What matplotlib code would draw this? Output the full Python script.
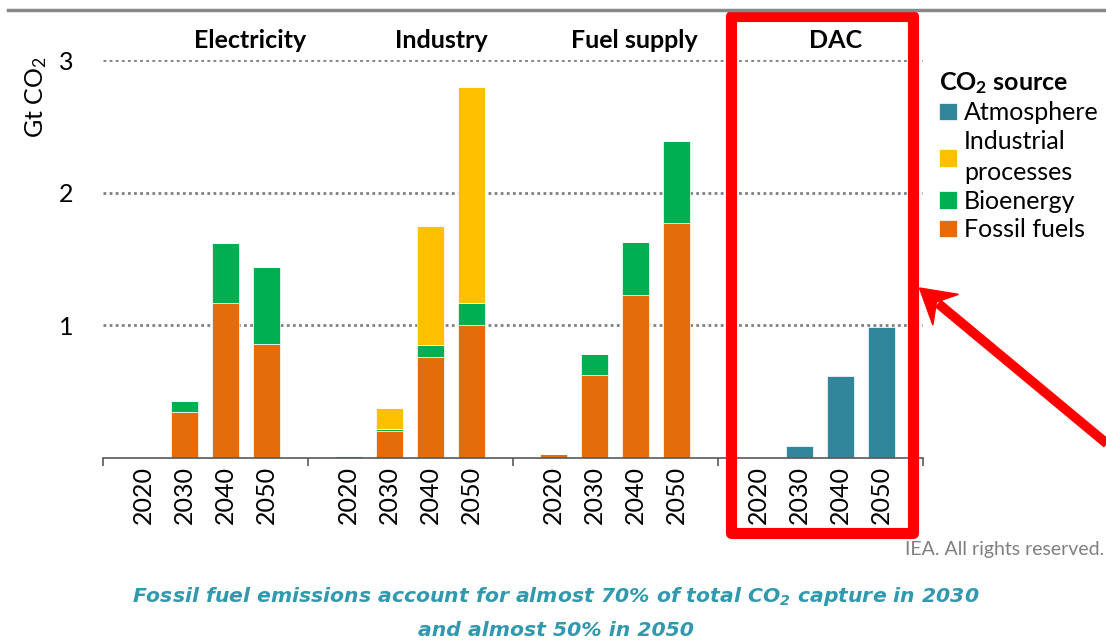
import matplotlib
matplotlib.use("Agg")
import matplotlib.pyplot as plt
from matplotlib.patches import Rectangle, Polygon, Patch
from matplotlib.lines import Line2D

plt.rcParams['font.family'] = ['Lato', 'DejaVu Sans']
plt.rcParams['mathtext.default'] = 'regular'

# data (Gt CO2), one row per sector, one value per year
sectors = ['Electricity', 'Industry', 'Fuel supply', 'DAC']
years = ['2020', '2030', '2040', '2050']
fossil = [[0.0, 0.345, 1.17, 0.86],
          [0.0, 0.20, 0.76, 1.00],
          [0.03, 0.625, 1.23, 1.77],
          [0.0, 0.0, 0.0, 0.0]]
bio = [[0.0, 0.085, 0.45, 0.58],
       [0.01, 0.015, 0.09, 0.17],
       [0.0, 0.155, 0.40, 0.62],
       [0.0, 0.0, 0.0, 0.0]]
industrial = [[0.0, 0.0, 0.0, 0.0],
              [0.0, 0.16, 0.90, 1.63],
              [0.0, 0.0, 0.0, 0.0],
              [0.0, 0.0, 0.0, 0.0]]
atmosphere = [[0.0, 0.0, 0.0, 0.0],
              [0.0, 0.0, 0.0, 0.0],
              [0.0, 0.0, 0.0, 0.0],
              [0.0, 0.085, 0.62, 0.985]]

colors = {'Atmosphere': '#31869B', 'Industrial\nprocesses': '#FFC000',
          'Bioenergy': '#00B050', 'Fossil fuels': '#E46C0A'}

W, H = 1106, 643


def px(x, y):
    return (x / W, 1 - y / H)


fig = plt.figure(figsize=(W / 100, H / 100), dpi=100)
ax = fig.add_axes([102.7 / W, 1 - 457.7 / H, 820 / W, 397.7 / H])

slots = len(years) + 1
xs, labels = [], []
for g, sec in enumerate(sectors):
    pos = [g * slots + 1 + i for i in range(len(years))]
    xs += pos
    labels += years
    bottom = [0.0] * len(years)
    for name, vals in [('Fossil fuels', fossil), ('Bioenergy', bio),
                       ('Industrial\nprocesses', industrial), ('Atmosphere', atmosphere)]:
        v = vals[g]
        ax.bar(pos, v, width=0.66, bottom=bottom, color=colors[name],
               edgecolor='white', linewidth=0.5)
        bottom = [b + x for b, x in zip(bottom, v)]

# group titles
title_x = [3.59, 8.25, 12.96, 17.88]
for tx, sec in zip(title_x, sectors):
    ax.text(tx, 3.15, sec, ha='center', va='center', fontsize=18,
            fontweight='bold', clip_on=False)

ax.set_xlim(0, slots * len(sectors))
ax.set_ylim(0, 3)
ax.set_xticks([g * slots for g in range(len(sectors) + 1)])
ax.set_xticklabels([])
ax.set_xticks(xs, minor=True)
ax.set_xticklabels(labels, minor=True, rotation=90, fontsize=18)
ax.tick_params(axis='x', which='major', length=6, width=1.2, color='#595959')
ax.tick_params(axis='x', which='minor', length=0, pad=6)
ax.set_yticks([1, 2, 3])
ax.set_yticklabels(['1', '2', '3'], fontsize=18)
ax.tick_params(axis='y', length=0, pad=21)
ax.yaxis.grid(True, color='#808080', linestyle=(0, (1, 1.2)), linewidth=2)
ax.set_axisbelow(True)
for s in ['left', 'right', 'top']:
    ax.spines[s].set_visible(False)
ax.spines['bottom'].set_color('#595959')
ax.spines['bottom'].set_linewidth(1.2)

fig.text(*px(36, 97), 'Gt CO$_2$', rotation=90, ha='center', va='center', fontsize=18)

# legend
order = ['Atmosphere', 'Industrial\nprocesses', 'Bioenergy', 'Fossil fuels']
handles = [Patch(facecolor=colors[k], edgecolor='white', linewidth=0.5) for k in order]
leg = fig.legend(handles, order, loc='upper left', bbox_to_anchor=px(929, 60),
                 frameon=False, fontsize=18, title='CO$_2$ source',
                 title_fontproperties={'weight': 'bold', 'size': 18},
                 alignment='left', handlelength=0.7, handleheight=0.7,
                 handletextpad=0.3, labelspacing=0.22, borderaxespad=0)
for t in leg.get_texts():
    t.set_linespacing(1.45)

# top rule
fig.add_artist(Line2D([8 / W, 1], [1 - 10 / H] * 2, color='#888888', lw=2.5,
                      transform=fig.transFigure))

# red highlight box
x0, y0 = px(730.5, 533)
fig.add_artist(Rectangle((x0, y0), 182 / W, 517 / H, transform=fig.transFigure,
                         fill=False, edgecolor='#FF0000', lw=8, joinstyle='round'))

# red arrow
tip = (919.5, 288.0)
u = (0.769, 0.639)
n = (-u[1], u[0])
hl, hw, notch = 34, 20, 22
head = [tip,
        (tip[0] + hl * u[0] + hw * n[0], tip[1] + hl * u[1] + hw * n[1]),
        (tip[0] + notch * u[0], tip[1] + notch * u[1]),
        (tip[0] + hl * u[0] - hw * n[0], tip[1] + hl * u[1] - hw * n[1])]
fig.add_artist(Polygon([px(*p) for p in head], closed=True, color='#FF0000',
                       transform=fig.transFigure))
start = (tip[0] + 24 * u[0], tip[1] + 24 * u[1])
end = (tip[0] + 260 * u[0], tip[1] + 260 * u[1])
fig.add_artist(Line2D([px(*start)[0], px(*end)[0]], [px(*start)[1], px(*end)[1]],
                      color='#FF0000', lw=7, solid_capstyle='butt',
                      transform=fig.transFigure))

fig.text(*px(1104, 549), 'IEA. All rights reserved.', ha='right', va='center',
         fontsize=14, color='#808080')

cap_style = dict(ha='center', va='center', fontsize=14.7, color='#3199AE',
                 fontweight='bold', fontstyle='italic', family='DejaVu Sans')
fig.text(*px(556, 596), 'Fossil fuel emissions account for almost 70% of total CO$_2$ capture in 2030',
         **cap_style)
fig.text(*px(556, 631), 'and almost 50% in 2050', **cap_style)

fig.savefig('out.png', dpi=100)
